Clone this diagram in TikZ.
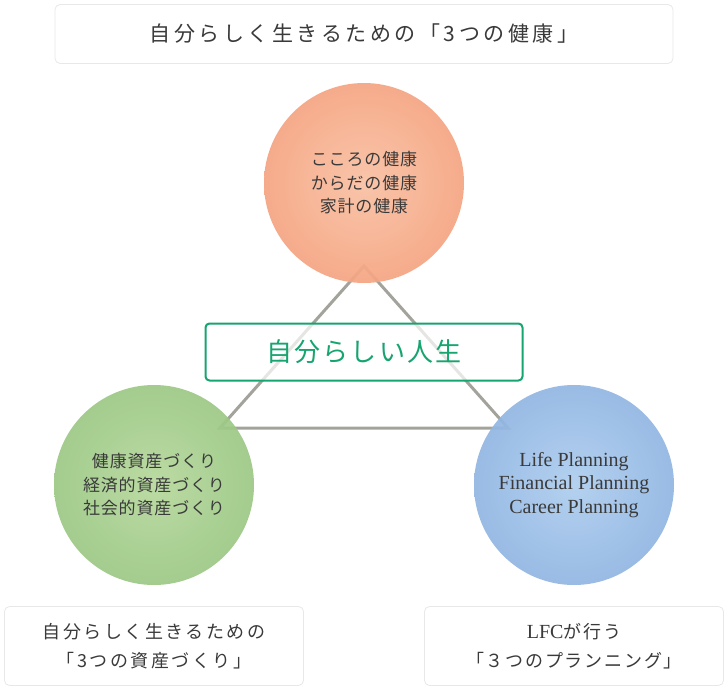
\documentclass[tikz,border=0pt]{standalone}
\usepackage{fontspec}
\newfontfamily\jp{Noto Sans CJK JP}
\newfontfamily\latserif{Liberation Serif}
\definecolor{txt}{HTML}{3A3A3A}
\definecolor{lineg}{HTML}{A3A39C}
\definecolor{lfcgreen}{HTML}{16A46F}
\definecolor{orin}{HTML}{F9C0A3}
\definecolor{orout}{HTML}{F4A582}
\definecolor{grin}{HTML}{B6D89C}
\definecolor{grout}{HTML}{9CC885}
\definecolor{blin}{HTML}{AECDEE}
\definecolor{blout}{HTML}{91B6E2}
\begin{document}
\begin{tikzpicture}[x=1pt,y=-1pt,
  panel/.style={draw=black!9, line width=0.8pt, fill=white, rounded corners=5pt, inner sep=0pt, align=center, text=txt},
  ball/.style={circle, minimum size=200pt, inner sep=0pt, shading=radial, fill opacity=0.93, text opacity=1, align=center, text=txt, font=\jp\fontsize{17}{23.5}\selectfont\addfontfeature{LetterSpace=5}},
  tri/.style={draw=lineg, line width=3pt, line join=miter}]
\useasboundingbox (0,0) rectangle (728,690);
% title box
\node[panel, minimum width=618pt, minimum height=59pt, font=\jp\fontsize{21}{26}\selectfont\addfontfeature{LetterSpace=17}] (title) at (364,34) {自分らしく生きるための「3つの健康」};
% triangle
\coordinate (tA) at (364,266);
\coordinate (tL) at (220,428);
\coordinate (tR) at (508,428);
\draw[tri] (tA) -- (tL) -- (tR) -- cycle;
% circles
\node[ball, inner color=orin, outer color=orout] (health) at (364,183) {こころの健康\\からだの健康\\家計の健康};
\node[ball, inner color=grin, outer color=grout] (asset) at (154,485) {健康資産づくり\\経済的資産づくり\\社会的資産づくり};
\node[ball, inner color=blin, outer color=blout, font=\latserif\fontsize{20}{23.5}\selectfont] (plan) at (574,485) {Life Planning\\Financial Planning\\Career Planning};
% center box
\node[draw=lfcgreen, line width=2pt, rounded corners=4pt, fill=white, fill opacity=0.72, text opacity=1, text=lfcgreen, minimum width=317pt, minimum height=57pt, inner sep=0pt, font=\jp\fontsize{26}{30}\selectfont\addfontfeature{LetterSpace=8}] (life) at (364,352) {自分らしい人生};
% bottom boxes
\node[panel, minimum width=299pt, minimum height=79pt, font=\jp\fontsize{18}{29}\selectfont\addfontfeature{LetterSpace=14}] (lbox) at (154,646) {自分らしく生きるための\\「3つの資産づくり」};
\node[panel, minimum width=299pt, minimum height=79pt, font=\jp\fontsize{18}{29}\selectfont\addfontfeature{LetterSpace=10}] (rbox) at (574,646) {{\latserif\fontsize{20}{29}\selectfont LFC}が行う\\「３つのプランニング」};
\end{tikzpicture}
\end{document}
